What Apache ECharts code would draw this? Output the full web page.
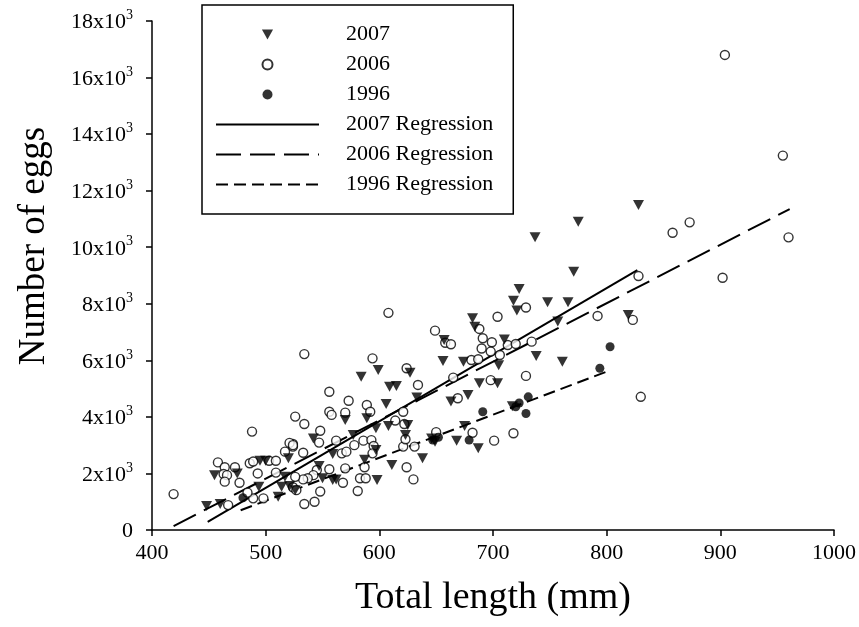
<!DOCTYPE html>
<html>
<head>
<meta charset="utf-8">
<script src="https://cdn.jsdelivr.net/npm/echarts@6/dist/echarts.min.js"></script>
<style>html,body{margin:0;padding:0;background:#fff}#c{width:859px;height:627px}</style>
</head>
<body>
<div id="c"></div>
<script>
// ---- data (total length in mm, number of eggs) ----
const len2007 = [448,460,455,475,495,500,520,494,517,514,511,526,
  609,615,606,570,589,597,608,625,577,542,623,633,559,597,587,638,611,547,550,559,562,598,521,646,649,
  584,599,627,
  771,723,718,721,748,766,682,684,757,657,710,656,674,705,738,761,688,704,678,
  828,775,819,737,
  663,675,668,687,717];
const eggs2007 = [850,920,1940,2000,2450,2450,2540,1530,1880,1530,1180,1410,
  5070,5090,4460,3890,3950,3600,3680,3710,3360,3240,3360,4690,2690,2830,2480,2540,2300,2260,1830,1770,1790,1770,1560,3240,3120,
  5420,5660,5560,
  9130,8520,8110,7760,8050,8050,7490,7190,7370,6720,6740,5980,5950,5830,6150,5950,5190,5190,4770,
  11490,10900,7600,10350,
  4540,3680,3160,2890,4380];

const len2006 = [419,488,458,464,473,463,466,464,477,486,489,493,503,509,509,517,524,524,533,489,498,467,484,534,
  634,556,573,589,592,556,558,570,526,534,621,614,622,548,547,521,524,562,567,571,578,586,593,595,594,621,623,631,587,570,556,545,542,537,533,526,524,527,568,583,588,624,630,581,548,543,650,
  608,649,534,594,624,
  729,704,688,658,663,691,699,690,698,713,720,734,706,681,687,665,698,729,669,
  904,955,960,902,858,873,828,792,823,830,
  682,701,718];
const eggs2006 = [1270,3480,2390,2220,2220,1980,1940,1710,1670,2360,2420,2000,2450,2450,2030,2770,3040,2950,2730,1120,1120,880,1320,920,
  5130,4890,4570,4420,4180,4180,4070,4150,4010,3750,4180,3870,3750,3510,3090,3080,3000,3160,2710,2770,3000,3160,3180,2970,2710,2950,3210,2950,2220,2180,2150,2120,1940,1830,1790,1880,1510,1410,1670,1830,1830,2220,1790,1380,1360,1000,3460,
  7680,7050,6220,6070,5720,
  7870,7540,7110,6620,6570,6780,6640,6420,6310,6540,6580,6660,6190,6010,6040,5390,5300,5450,4660,
  16800,13240,10350,8920,10510,10880,8980,7570,7430,4710,
  3440,3160,3420];

const len1996 = [480,647,652,691,679,720,723,729,731,803,794];
const eggs1996 = [1140,3180,3280,4180,3180,4360,4490,4120,4710,6480,5720];

// regression line end points
const regLen2007 = [449, 827];
const regEggs2007 = [290, 9190];
const regLen2006 = [419, 961];
const regEggs2006 = [140, 11350];
const regLen1996 = [478, 800];
const regEggs1996 = [700, 5600];

const xTicks = [400,500,600,700,800,900,1000];
const yTickStep = 2000;

function zip(a, b) { return a.map((v, i) => [v, b[i]]); }

const FONT = '"Liberation Serif","Times New Roman",serif';
const chart = echarts.init(document.getElementById('c'), null, {renderer: 'canvas'});
const hideSym = {color: 'rgba(0,0,0,0)', borderColor: 'rgba(0,0,0,0)', borderWidth: 0};

const option = {
  backgroundColor: '#fff',
  animation: false,
  grid: {left: 152, right: 24, top: 21, bottom: 97, containLabel: false},
  xAxis: {
    type: 'value', min: xTicks[0], max: xTicks[xTicks.length-1], interval: 100,
    splitLine: {show: false},
    axisLine: {show: true, onZero: false, lineStyle: {color: '#000', width: 1.5}},
    axisTick: {show: true, inside: false, length: 6, lineStyle: {color: '#000', width: 1.5}},
    axisLabel: {color: '#000', fontFamily: FONT, fontSize: 22, margin: 12, formatter: v => String(v)},
    name: 'Total length (mm)', nameLocation: 'middle', nameGap: 49,
    nameTextStyle: {color: '#000', fontFamily: FONT, fontSize: 38}
  },
  yAxis: {
    type: 'value', min: 0, max: 18000, interval: yTickStep,
    splitLine: {show: false},
    axisLine: {show: true, onZero: false, lineStyle: {color: '#000', width: 1.5}},
    axisTick: {show: true, inside: false, length: 6, lineStyle: {color: '#000', width: 1.5}},
    axisLabel: {
      color: '#000', fontFamily: FONT, fontSize: 22, margin: 19,
      formatter: function (v) { return v === 0 ? '{b|0}' : '{b|' + (v/1000) + 'x10}{s|3}'; },
      rich: {
        b: {fontFamily: FONT, fontSize: 22, color: '#000', lineHeight: 25, verticalAlign: 'bottom'},
        s: {fontFamily: FONT, fontSize: 14, color: '#000', lineHeight: 25, verticalAlign: 'top', padding: [0,0,8,0]}
      }
    }
  },
  legend: {
    orient: 'vertical', left: 202, top: 5,
    backgroundColor: '#fff',
    borderColor: '#000', borderWidth: 1.5, borderRadius: 0,
    padding: [18, 20, 18, 13],
    itemWidth: 103, itemHeight: 10, itemGap: 7,
    symbolKeepAspect: true,
    textStyle: {color: '#000', fontFamily: FONT, fontSize: 22, lineHeight: 23, padding: [0,0,0,22]},
    data: [
      {name: '2007', icon: 'path://M0,0L10,0L5,9Z', itemStyle: {color: '#000'}},
      {name: '2006'},
      {name: '1996'},
      {name: '2007 Regression', itemStyle: hideSym},
      {name: '2006 Regression', itemStyle: hideSym},
      {name: '1996 Regression', itemStyle: hideSym}
    ]
  },
  graphic: [{
    type: 'text', x: 34, y: 246, rotation: Math.PI / 2,
    style: {text: 'Number of eggs', fill: '#000', font: '37px ' + FONT, textAlign: 'center', textVerticalAlign: 'middle'}
  }],
  series: [
    {
      name: '2007 Regression', type: 'line', data: zip(regLen2007, regEggs2007),
      symbol: 'none', color: '#000', lineStyle: {color: '#000', width: 2, type: 'solid'}, z: 2
    },
    {
      name: '2006 Regression', type: 'line', data: zip(regLen2006, regEggs2006),
      symbol: 'none', color: '#000', lineStyle: {color: '#000', width: 2, type: [25, 9]}, z: 2
    },
    {
      name: '1996 Regression', type: 'line', data: zip(regLen1996, regEggs1996),
      symbol: 'none', color: '#000', lineStyle: {color: '#000', width: 2, type: [12, 6]}, z: 2
    },
    {
      name: '2006', type: 'scatter', data: zip(len2006, eggs2006),
      symbol: 'circle', symbolSize: 9,
      itemStyle: {color: '#fff', borderColor: '#000', borderWidth: 1.4}, z: 3
    },
    {
      name: '1996', type: 'scatter', data: zip(len1996, eggs1996),
      symbol: 'circle', symbolSize: 9,
      itemStyle: {color: '#000'}, z: 4
    },
    {
      name: '2007', type: 'scatter', data: zip(len2007, eggs2007),
      symbol: 'triangle', symbolRotate: 180, symbolSize: [11, 10],
      itemStyle: {color: '#000'}, z: 5
    }
  ]
};
chart.setOption(option);
</script>
</body>
</html>
